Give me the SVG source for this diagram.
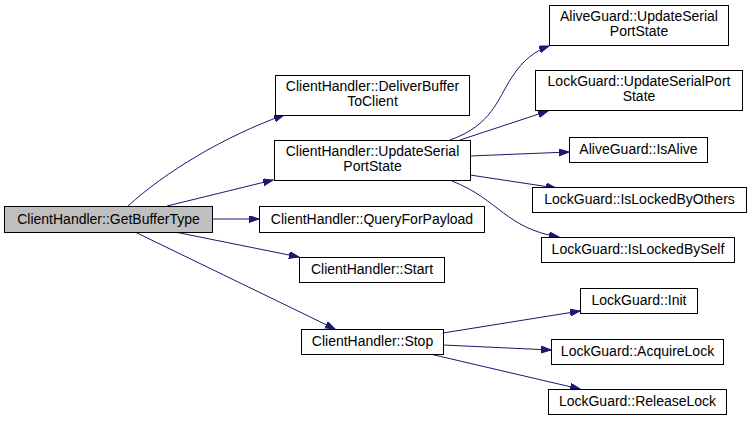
<svg xmlns="http://www.w3.org/2000/svg" width="751" height="422" viewBox="0 0 751 422">
<style>
.n rect{fill:#ffffff;stroke:#000000;stroke-width:1}
.root rect{fill:#bfbfbf;stroke:#000000;stroke-width:1}
text{font-family:"Liberation Sans",Arial,sans-serif;font-size:14px;fill:#000000;text-anchor:middle}
.e path{fill:none;stroke:#191970;stroke-width:1;marker-end:url(#ah)}
</style>
<defs>
<marker id="ah" markerUnits="userSpaceOnUse" markerWidth="11" markerHeight="8" refX="10" refY="3.5" orient="auto">
<path d="M0,0 L10,3.5 L0,7 z" fill="#191970" stroke="#191970" stroke-width="1"/>
</marker>
</defs>
<rect width="751" height="422" fill="#ffffff"/>
<g class="e" id="edges">
<path d="M128,206 C165,172 225,136 284,115"/>
<path d="M167,206 L273,180"/>
<path d="M212,219 L259,219"/>
<path d="M175,232 L299,257"/>
<path d="M135,232 L335,329"/>
<path d="M450,140 C492,125 497,100 512,77 C523,60 535,51 549,46"/>
<path d="M460,140 L548,111"/>
<path d="M470,156 L569,152"/>
<path d="M470,175 L556,188"/>
<path d="M452,181 C500,200 505,228 559,237"/>
<path d="M443,333 L580,311"/>
<path d="M443,345 L551,350"/>
<path d="M430,354 L580,389"/>
</g>
<g class="root" id="n_GetBufferType"><rect x="4.5" y="206.5" width="208" height="26"/><text x="108.5" y="224">ClientHandler::GetBufferType</text></g>
<g class="n" id="n_DeliverBufferToClient"><rect x="275.5" y="75.5" width="194" height="40"/><text x="372.5" y="91">ClientHandler::DeliverBuffer</text><text x="372.5" y="106">ToClient</text></g>
<g class="n" id="n_CH_UpdateSerialPortState"><rect x="274.5" y="140.5" width="196" height="40"/><text x="372.5" y="156">ClientHandler::UpdateSerial</text><text x="372.5" y="171">PortState</text></g>
<g class="n" id="n_QueryForPayload"><rect x="259.5" y="206.5" width="225" height="26"/><text x="372" y="224">ClientHandler::QueryForPayload</text></g>
<g class="n" id="n_Start"><rect x="299.5" y="257.5" width="145" height="25"/><text x="372" y="274">ClientHandler::Start</text></g>
<g class="n" id="n_Stop"><rect x="301.5" y="329.5" width="142" height="25"/><text x="372.5" y="346">ClientHandler::Stop</text></g>
<g class="n" id="n_AG_UpdateSerialPortState"><rect x="549.5" y="5.5" width="179" height="40"/><text x="639" y="21">AliveGuard::UpdateSerial</text><text x="639" y="36">PortState</text></g>
<g class="n" id="n_LG_UpdateSerialPortState"><rect x="535.5" y="70.5" width="207" height="40"/><text x="639" y="86">LockGuard::UpdateSerialPort</text><text x="639" y="101">State</text></g>
<g class="n" id="n_IsAlive"><rect x="569.5" y="137.5" width="138" height="25"/><text x="638.5" y="154">AliveGuard::IsAlive</text></g>
<g class="n" id="n_IsLockedByOthers"><rect x="532.5" y="187.5" width="214" height="25"/><text x="639.5" y="204">LockGuard::IsLockedByOthers</text></g>
<g class="n" id="n_IsLockedBySelf"><rect x="541.5" y="237.5" width="193" height="25"/><text x="638" y="254">LockGuard::IsLockedBySelf</text></g>
<g class="n" id="n_Init"><rect x="580.5" y="288.5" width="117" height="25"/><text x="639" y="305">LockGuard::Init</text></g>
<g class="n" id="n_AcquireLock"><rect x="551.5" y="339.5" width="172" height="25"/><text x="637.5" y="356">LockGuard::AcquireLock</text></g>
<g class="n" id="n_ReleaseLock"><rect x="548.5" y="389.5" width="178" height="25"/><text x="637.5" y="406">LockGuard::ReleaseLock</text></g>
</svg>
